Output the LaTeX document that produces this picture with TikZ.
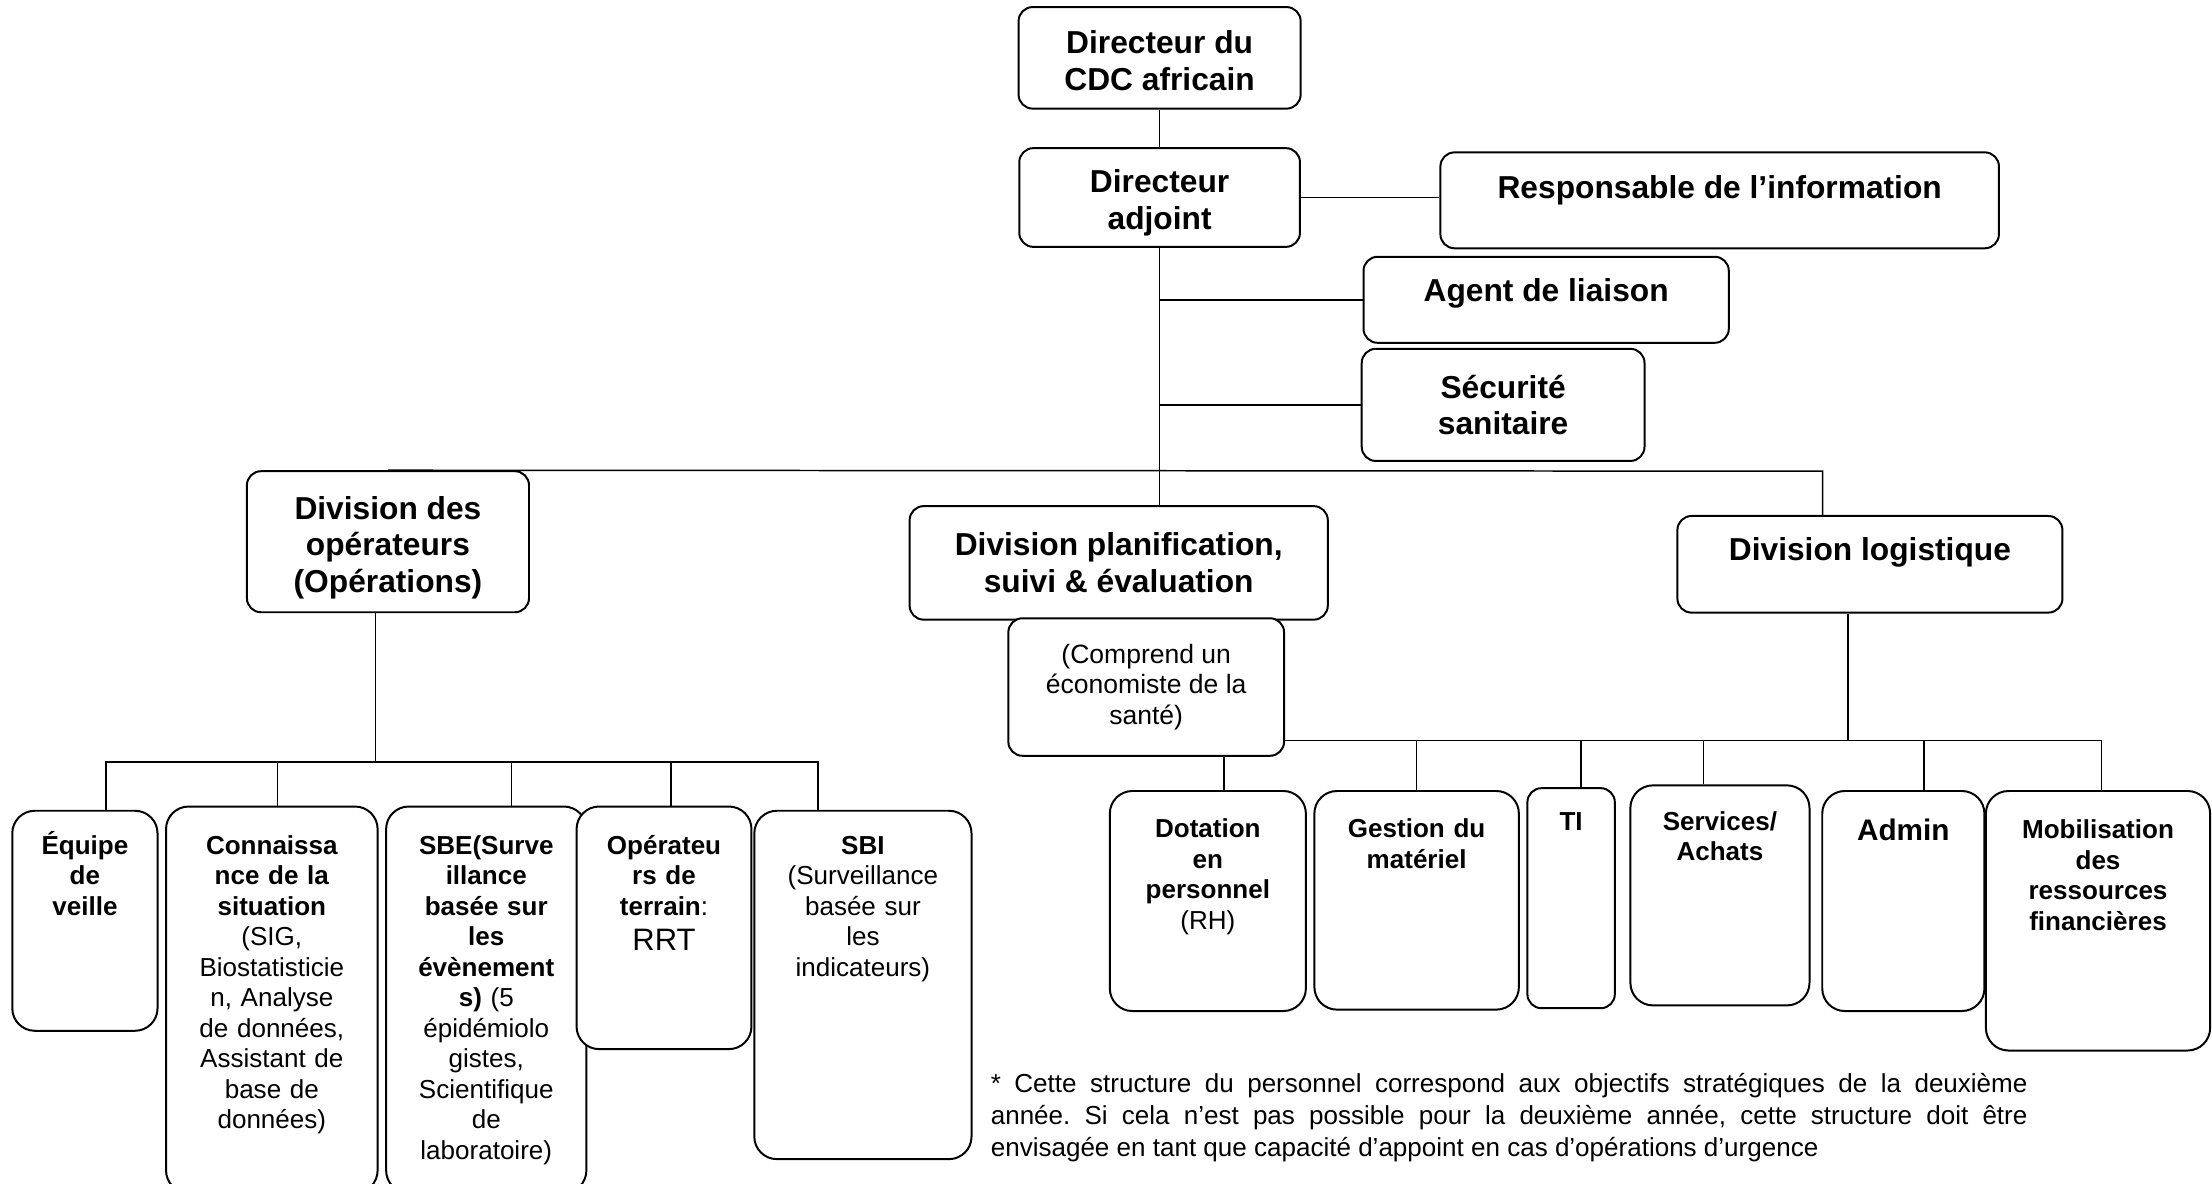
\documentclass[tikz,border=0pt]{standalone}
\usepackage{fontspec}
\setmainfont{Liberation Sans}
\frenchspacing
\tikzstyle{head} = [draw=black, line width=0.8pt, fill=white, rounded corners=0.2cm, align=center, font=\fontsize{12.8}{14.8}\selectfont\bfseries]
\tikzstyle{cell} = [draw=black, line width=0.8pt, fill=white, rounded corners=0.32cm, anchor=north west, inner sep=0pt, align=center, font=\fontsize{10.5}{12.3}\selectfont]
\tikzstyle{line} = [line width=0.6pt]

\begin{document}
\begin{tikzpicture}[x=0.02cm, y=-0.02cm]
\useasboundingbox (0,0) rectangle (1568,839);
\clip (0,0) rectangle (1568,839);

\node (dir) [head, minimum width=4cm, minimum height=1.44cm, text height=0.93cm] at (822,41) {Directeur du\\CDC africain};
\node (adj) [head, minimum width=3.98cm, minimum height=1.4cm, text height=1cm] at (822,140) {Directeur\\adjoint};
\node (info) [head, minimum width=7.92cm, minimum height=1.36cm, text depth=0.39cm] at (1219,142) {Responsable de l’information};
\node (liaison) [head, minimum width=5.18cm, minimum height=1.22cm, text depth=0.28cm] at (1096,212.5) {Agent de liaison};
\node (secu) [head, minimum width=4.01cm, minimum height=1.59cm] at (1065.5,287) {Sécurité\\sanitaire};

\node (ops) [head, minimum width=4cm, minimum height=2cm, text height=1.53cm] at (275,384) {Division des\\opérateurs\\(Opérations)};
\node (plan) [head, minimum width=5.93cm, minimum height=1.61cm] at (793,399) {Division planification,\\suivi \& évaluation};
\node (eco) [head, font=\fontsize{10.7}{12.2}\selectfont, minimum width=3.91cm, minimum height=1.95cm] at (812.5,487) {(Comprend un\\économiste de la\\santé)};
\node (log) [head, minimum width=5.46cm, minimum height=1.37cm, text depth=0.43cm] at (1325.5,400) {Division logistique};

\node (veille) [cell, text width=2.06cm, text height=0.62cm, text depth=2.5cm] at (8,574) {\bfseries Équipe\\de\\veille};
\node (conn) [cell, text width=3cm, text height=0.68cm, text depth=4.8cm] at (117,571) {{\bfseries Connaissa\\nce de la\\situation}\\(SIG,\\Biostatisticie\\n, Analyse\\de données,\\Assistant de\\base de\\données)};
\node (sbe) [cell, text width=2.84cm, text height=0.68cm, text depth=4.8cm] at (273,571) {{\bfseries SBE(Surve\\illance\\basée sur\\les\\évènement\\s)} (5\\épidémiolo\\gistes,\\Scientifique\\de\\laboratoire)};
\node (oper) [cell, text width=2.48cm, text height=0.68cm, text depth=2.76cm] at (408,571) {{\bfseries Opérateu\\rs de\\terrain}:\\[2pt]{\fontsize{12.5}{15}\selectfont RRT}};
\node (sbi) [cell, text width=3.08cm, text height=0.62cm, text depth=4.32cm] at (534,574) {{\bfseries SBI}\\(Surveillance\\basée sur\\les\\indicateurs)};

\node (dot) [cell, text width=2.78cm, text height=0.66cm, text depth=2.46cm] at (786,560) {{\bfseries Dotation\\en\\personnel}\\(RH)};
\node (mat) [cell, text width=2.9cm, text height=0.66cm, text depth=2.44cm] at (931,560) {\bfseries Gestion du\\matériel};
\node (ti) [cell, rounded corners=0.2cm, text width=1.24cm, text height=0.6cm, text depth=2.52cm] at (1082,558) {\bfseries TI};
\node (serv) [cell, text width=2.54cm, text height=0.64cm, text depth=2.48cm] at (1155,556) {\bfseries Services/\\Achats};
\node (adm) [cell, font=\fontsize{12}{14}\selectfont, text width=2.3cm, text height=0.7cm, text depth=2.42cm] at (1291,560) {\bfseries Admin};
\node (mob) [cell, text width=3.18cm, text height=0.68cm, text depth=3cm] at (1407,560) {\bfseries Mobilisation\\des\\ressources\\financières};

\node (note) [anchor=base west, inner sep=0pt, align=left, font=\fontsize{10.5}{12.9}\selectfont] at (702,819.5) {\makebox[14.7cm][s]{* Cette structure du personnel correspond aux objectifs stratégiques de la deuxième}\\\makebox[14.7cm][s]{année. Si cela n’est pas possible pour la deuxième année, cette structure doit être}\\envisagée en tant que capacité d’appoint en cas d’opérations d’urgence};

\draw [line] (dir) -- (adj);
\draw [line] (adj.east) -- (adj.east -| info.west);
\draw [line] (adj) -- (adj |- plan.north);
\draw [line] (adj |- liaison.west) -- (liaison);
\draw [line] (adj |- secu.west) -- (secu);
\coordinate (bus) at (1292,334);
\draw [line] (ops.north) -- (bus) -- (bus |- log.north);

\coordinate (lbus) at (266,540);
\draw [line] (lbus |- ops.south) -- (lbus);
\foreach \n/\s in {veille/0.3cm, conn/0.08cm, sbe/0.36cm, oper/0.1cm, sbi/-0.64cm}
  \draw [line] (lbus) -| ([xshift=\s]\n.north);

\coordinate (rbus) at (1310,525);
\draw [line] (rbus |- log.south) -- (rbus);
\draw [line] (eco.east |- rbus) -- (rbus);
\foreach \n/\s in {mat/0cm, ti/0.14cm, serv/-0.23cm, adm/0.29cm, mob/0.05cm}
  \draw [line] (rbus) -| ([xshift=\s]\n.north);
\draw [line] ([xshift=0.23cm]dot.north) -- ([xshift=0.23cm]dot.north |- eco.south);

\end{tikzpicture}
\end{document}
